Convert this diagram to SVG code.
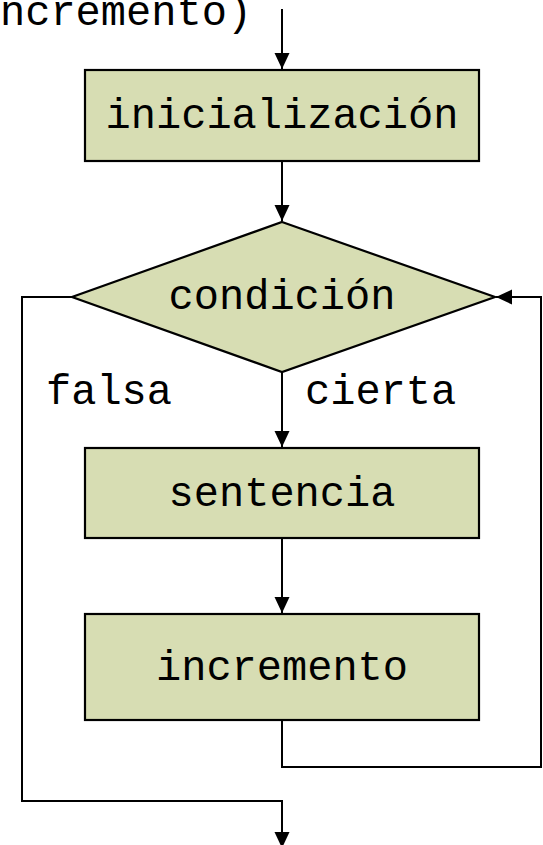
<svg xmlns="http://www.w3.org/2000/svg" width="543" height="845" viewBox="0 0 543 845">
<style>
.node{fill:#d7ddb3;stroke:#000;stroke-width:2.2}
.lbl{font-family:"Liberation Mono","Courier New",monospace;font-size:42px;fill:#000}
.c{text-anchor:middle}
.edge{fill:none;stroke:#000;stroke-width:2}
</style>
<defs>
<marker id="arr" markerUnits="userSpaceOnUse" markerWidth="16" markerHeight="16" refX="16" refY="7.5" orient="auto">
<path d="M0,0 L16,7.5 L0,15 z" fill="#000"/>
</marker>
</defs>
<text class="lbl" x="0" y="25">ncremento)</text>
<g id="inicializacion">
<rect class="node" x="85" y="70" width="394" height="91"/>
<text class="lbl c" x="282" y="128">inicialización</text>
</g>
<g id="condicion">
<polygon class="node" points="282,222 495,297 282,372 72,297"/>
<text class="lbl c" x="282" y="309">condición</text>
</g>
<g id="sentencia">
<rect class="node" x="85" y="448" width="394" height="90"/>
<text class="lbl c" x="282" y="506">sentencia</text>
</g>
<g id="incremento">
<rect class="node" x="85" y="614" width="394" height="106"/>
<text class="lbl c" x="282" y="680">incremento</text>
</g>
<g id="connectors">
<path class="edge" d="M282,9 L282,69" marker-end="url(#arr)"/>
<path class="edge" d="M282,161 L282,221" marker-end="url(#arr)"/>
<path class="edge" d="M282,372 L282,447" marker-end="url(#arr)"/>
<path class="edge" d="M282,538 L282,613" marker-end="url(#arr)"/>
<path class="edge" d="M282,720 L282,767 L541,767 L541,297 L496,297" marker-end="url(#arr)"/>
<path class="edge" d="M72,297 L22,297 L22,801 L282,801 L282,848" marker-end="url(#arr)"/>
<text class="lbl" x="46" y="404">falsa</text>
<text class="lbl" x="305" y="404">cierta</text>
</g>
</svg>
